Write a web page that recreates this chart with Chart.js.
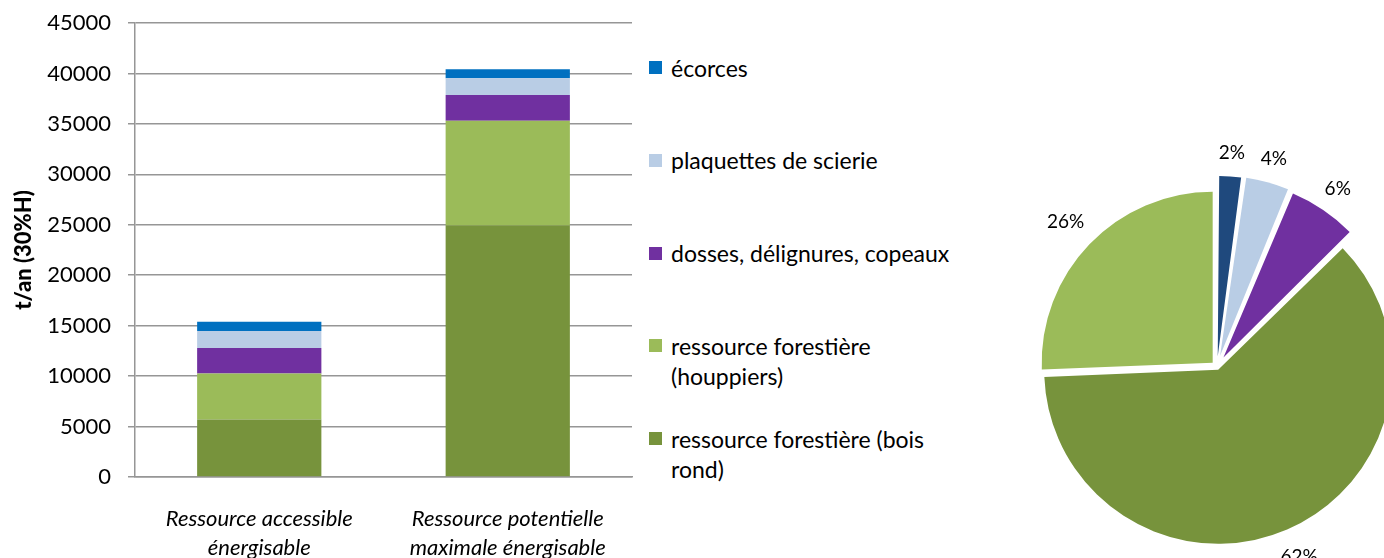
<!DOCTYPE html>
<html><head><meta charset="utf-8">
<script src="https://cdn.jsdelivr.net/npm/chart.js@4.4.1/dist/chart.umd.min.js"></script>
<style>
html,body{margin:0;padding:0;background:#fff;overflow:hidden;width:1384px;height:558px;}
#wrap{position:relative;width:1384px;height:558px;overflow:hidden;}
#barBox{position:absolute;left:0;top:0;width:640px;height:558px;}
#pieBox{position:absolute;left:957px;top:107px;width:520px;height:520px;}
#legend{position:absolute;left:649px;top:52.7px;font-family:Lato,sans-serif;font-size:23px;color:#000;}
.item{position:relative;height:92.75px;}
.sw{position:absolute;left:0;top:8.5px;width:13px;height:13px;}
.tx{position:absolute;left:22px;top:0;line-height:30px;width:300px;white-space:normal;}
</style></head>
<body><div id="wrap">
<div id="barBox"><canvas id="bar" width="640" height="558"></canvas></div>
<div id="legend"></div>
<div id="pieBox"><canvas id="pie" width="520" height="520"></canvas></div>
</div>
<script>
// ---- data ----
const categories = [['Ressource accessible', 'énergisable'], ['Ressource potentielle', 'maximale énergisable']];
const seriesNames = ['ressource forestière (bois rond)', 'ressource forestière (houppiers)', 'dosses, délignures, copeaux', 'plaquettes de scierie', 'écorces'];
const boisRond   = [5700, 24950];
const houppiers  = [4550, 10350];
const dosses     = [2530, 2570];
const plaquettes = [1680, 1650];
const ecorces    = [930, 890];
const yAxisTitle = 't/an (30%H)';
const yMax = 45000;
const yStep = 5000;

// ---- styles ----
const barColors = ['#77933C', '#9BBB59', '#7030A0', '#B9CDE5', '#0070C0'];
const pieColors = { 'écorces': '#1F497D', 'plaquettes de scierie': '#B9CDE5', 'dosses, délignures, copeaux': '#7030A0',
  'ressource forestière (bois rond)': '#77933C', 'ressource forestière (houppiers)': '#9BBB59' };
const pieOffsetsByName = { 'écorces': 43, 'plaquettes de scierie': 47, 'dosses, délignures, copeaux': 46,
  'ressource forestière (bois rond)': 12, 'ressource forestière (houppiers)': 24 };
const gridColor = '#969696';
const FONT = 'Lato';

const seriesValues = [boisRond, houppiers, dosses, plaquettes, ecorces];

// ---- bar chart ----
new Chart(document.getElementById('bar'), {
  type: 'bar',
  data: {
    labels: categories,
    datasets: seriesNames.map((n, i) => ({
      label: n, data: seriesValues[i], backgroundColor: barColors[i],
      borderWidth: 0, barPercentage: 0.5, categoryPercentage: 1
    }))
  },
  options: {
    responsive: false, animation: false, events: [],
    layout: { padding: { top: 23, right: 8, left: 0, bottom: 0 } },
    plugins: { legend: { display: false }, tooltip: { enabled: false } },
    scales: {
      x: {
        stacked: true,
        grid: { display: false, drawTicks: false },
        border: { display: true, color: gridColor, width: 1.5 },
        ticks: { color: '#000', padding: 27, maxRotation: 0, autoSkip: false,
          font: { family: FONT, size: 22, style: 'italic', lineHeight: '29px' } },
        afterFit: s => { s.height = 81; }
      },
      y: {
        stacked: true, min: 0, max: yMax,
        ticks: { stepSize: yStep, color: '#000', padding: 17, font: { family: FONT, size: 22 },
          callback: v => String(v) },
        grid: { color: gridColor, lineWidth: 1.5, tickLength: 7, drawTicks: true },
        border: { display: true, color: gridColor, width: 1.5 },
        title: { display: true, text: yAxisTitle, color: '#000', padding: { top: 11, bottom: 0 },
          font: { family: FONT, size: 22, weight: 900 } },
        afterFit: s => { s.width = 135; s.paddingTop = 0; s.paddingBottom = 0; }
      }
    }
  }
});

// ---- legend (HTML, reversed order like the stack) ----
const legendEl = document.getElementById('legend');
for (let i = seriesNames.length - 1; i >= 0; i--) {
  const it = document.createElement('div'); it.className = 'item';
  const sw = document.createElement('div'); sw.className = 'sw'; sw.style.background = barColors[i];
  const tx = document.createElement('div'); tx.className = 'tx'; tx.textContent = seriesNames[i];
  it.appendChild(sw); it.appendChild(tx); legendEl.appendChild(it);
}

// ---- pie chart (potential resource, clockwise from top) ----
const pieOrder = ['écorces', 'plaquettes de scierie', 'dosses, délignures, copeaux', 'ressource forestière (bois rond)', 'ressource forestière (houppiers)'];
const pieValues = pieOrder.map(n => seriesValues[seriesNames.indexOf(n)][1]);

const pieLabelPlugin = {
  id: 'pieLabels',
  afterDatasetsDraw(chart) {
    const meta = chart.getDatasetMeta(0);
    const ds = chart.data.datasets[0];
    const total = ds.data.reduce((a, b) => a + b, 0);
    const ctx = chart.ctx;
    ctx.save();
    ctx.font = '19px ' + FONT;
    ctx.fillStyle = '#000';
    ctx.textAlign = 'center';
    ctx.textBaseline = 'middle';
    meta.data.forEach((arc, i) => {
      const p = arc.getProps(['x', 'y', 'startAngle', 'endAngle', 'outerRadius']);
      const mid = (p.startAngle + p.endAngle) / 2;
      const d = p.outerRadius + ds.offset[i] / 4 + 33;
      ctx.fillText(Math.round(ds.data[i] / total * 100) + '%', p.x + Math.cos(mid) * d, p.y + Math.sin(mid) * d);
    });
    ctx.restore();
  }
};

new Chart(document.getElementById('pie'), {
  type: 'pie',
  data: {
    labels: pieOrder,
    datasets: [{
      data: pieValues,
      backgroundColor: pieOrder.map(n => pieColors[n]),
      offset: pieOrder.map(n => pieOffsetsByName[n]),
      borderWidth: 0
    }]
  },
  options: {
    responsive: false, animation: false, events: [],
    radius: 171,
    layout: { padding: 0 },
    plugins: { legend: { display: false }, tooltip: { enabled: false } }
  },
  plugins: [pieLabelPlugin]
});
</script>
</body></html>
